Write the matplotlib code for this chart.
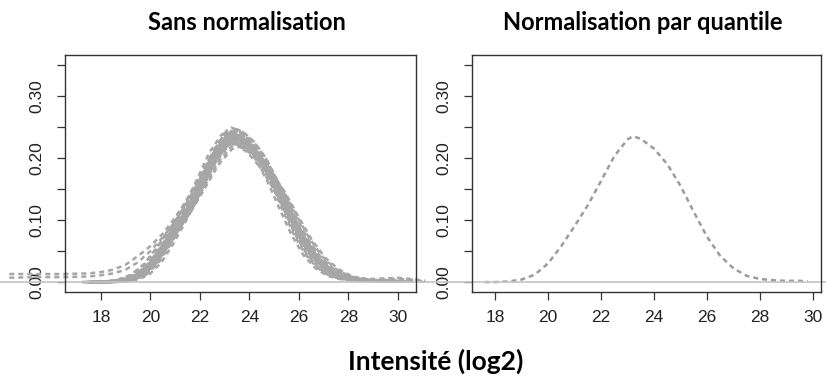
import numpy as np
import matplotlib
matplotlib.use('Agg')
import matplotlib.pyplot as plt

# Courbe de densité après normalisation par quantile
ref_x = [17.6, 18.0, 18.5, 19.0, 19.5, 20.0, 20.5, 21.0, 21.5, 22.0, 22.5, 23.0, 23.2,
         23.5, 24.0, 24.5, 25.0, 25.5, 26.0, 26.5, 27.0, 27.5, 28.0, 28.5, 29.0, 29.5, 29.8]
ref_y = [0.000, 0.000, 0.001, 0.004, 0.012, 0.030, 0.058, 0.090, 0.124, 0.163, 0.203, 0.230, 0.235,
         0.231, 0.215, 0.190, 0.155, 0.113, 0.073, 0.042, 0.022, 0.010, 0.005, 0.003, 0.002, 0.002, 0.001]

# Échantillons sans normalisation : décalage, hauteur et largeur relatives
ech_decal = [0.10, 0.05, 0.15, 0.00, 0.20, 0.12, 0.08, -0.05, 0.18, 0.25, 0.02, 0.10, 0.14,
             0.06, -0.10, 0.22, 0.04, 0.16, 0.11, 0.09, 0.30, -0.15, 0.13, 0.07, 0.19, 0.03,
             0.27, -0.02, 0.17, 0.09, 0.21, 0.01]
ech_haut = [1.00, 1.02, 0.98, 1.04, 0.97, 1.01, 1.03, 0.99, 0.96, 1.05, 1.00, 0.95, 1.02,
            1.06, 0.97, 0.99, 1.01, 1.04, 0.98, 1.00, 0.93, 1.03, 0.96, 1.02, 1.00, 0.98,
            0.95, 1.03, 1.01, 0.97, 1.05, 0.99]
ech_larg = [1.00, 0.97, 1.03, 0.95, 1.05, 1.00, 0.98, 1.06, 1.02, 0.94, 1.03, 1.07, 0.97,
            0.93, 1.04, 1.00, 1.02, 0.96, 1.03, 0.98, 1.08, 0.95, 1.05, 0.97, 1.01, 1.02,
            1.06, 0.94, 0.99, 1.04, 0.96, 1.01]

# Deux échantillons avec queues plus lourdes
out_x = [14.3, 15.5, 16.5, 17.5, 18.0, 18.5, 19.0, 19.5, 20.0, 20.5, 21.0, 21.5, 22.0, 22.5, 23.0,
         23.5, 24.0, 24.5, 25.0, 25.5, 26.0, 26.5, 27.0, 27.5, 28.0, 28.5, 29.0, 29.5, 30.0, 30.5, 31.1]
out1_y = [0.013, 0.013, 0.013, 0.014, 0.016, 0.020, 0.028, 0.042, 0.058, 0.078, 0.104, 0.135, 0.170,
          0.205, 0.232, 0.242, 0.230, 0.202, 0.165, 0.124, 0.084, 0.052, 0.029, 0.015, 0.009, 0.006,
          0.005, 0.006, 0.007, 0.005, 0.002]
out2_y = [0.007, 0.008, 0.008, 0.009, 0.011, 0.014, 0.020, 0.032, 0.050, 0.072, 0.098, 0.130, 0.166,
          0.202, 0.228, 0.236, 0.226, 0.200, 0.165, 0.126, 0.088, 0.056, 0.032, 0.017, 0.008, 0.004,
          0.003, 0.004, 0.005, 0.004, 0.001]

titres = ['Sans normalisation', 'Normalisation par quantile']
x_ticks = [18, 20, 22, 24, 26, 28, 30]
y_ticks = [0.00, 0.05, 0.10, 0.15, 0.20, 0.25, 0.30, 0.35]
y_labels = ['0.00', '', '0.10', '', '0.20', '', '0.30', '']

W, H = 826, 381
fig = plt.figure(figsize=(W / 100, H / 100), dpi=100)

def px(x0, y0, x1, y1):
    return [x0 / W, 1 - y1 / H, (x1 - x0) / W, (y1 - y0) / H]

ax1 = fig.add_axes(px(65, 55, 416, 292))
ax2 = fig.add_axes(px(472, 55, 821, 292))

gris = '#a6a6a6'
tirets = (0, (2.0, 1.6))
lw = 1.8

rx = np.array(ref_x)
ry = np.array(ref_y)
centre = 23.2
for d, h, l in zip(ech_decal, ech_haut, ech_larg):
    ax1.plot(centre + (rx - centre) * l + d, ry * h, color=gris, lw=lw, ls=tirets, clip_on=False)
ax1.plot(out_x, out1_y, color=gris, lw=lw, ls=tirets, clip_on=False)
ax1.plot(out_x, out2_y, color=gris, lw=lw, ls=tirets, clip_on=False)

ax2.plot(ref_x, ref_y, color='#9c9c9c', lw=lw, ls=tirets)

ax1.set_xlim(16.55, 30.73)
ax2.set_xlim(17.13, 30.30)

# ligne horizontale à zéro (dépasse du cadre comme dans R avec xpd)
ax1.axhline(0, xmin=(0 - 65) / 351, xmax=(425 - 65) / 351, color='#c4c4c4', lw=1.2, clip_on=False)
ax2.axhline(0, xmin=(418 - 472) / 349, xmax=(826 - 472) / 349, color='#c4c4c4', lw=1.2, clip_on=False)

for ax, titre, cx in zip([ax1, ax2], titres, [247, 643]):
    ax.set_ylim(-0.016, 0.366)
    ax.set_xticks(x_ticks)
    ax.set_xticklabels([str(v) for v in x_ticks], fontsize=12.5, family='Liberation Sans', color='#222222')
    ax.set_yticks(y_ticks)
    ax.set_yticklabels(y_labels, fontsize=12.5, family='Liberation Sans', color='#222222',
                       rotation=90, va='center')
    ax.tick_params(direction='out', length=6, width=0.9, color='#333333')
    ax.tick_params(axis='x', pad=7)
    ax.tick_params(axis='y', pad=9)
    for s in ax.spines.values():
        s.set_color('#333333')
        s.set_linewidth(1.0)
    fig.text(cx / W, 1 - 22 / H, titre, ha='center', va='center',
             fontsize=17, fontweight='bold', family='Lato')

fig.text(436 / W, 1 - 361 / H, 'Intensité (log2)', ha='center', va='center',
         fontsize=19, fontweight='bold', family='Lato')

fig.savefig('out.png', dpi=100)
